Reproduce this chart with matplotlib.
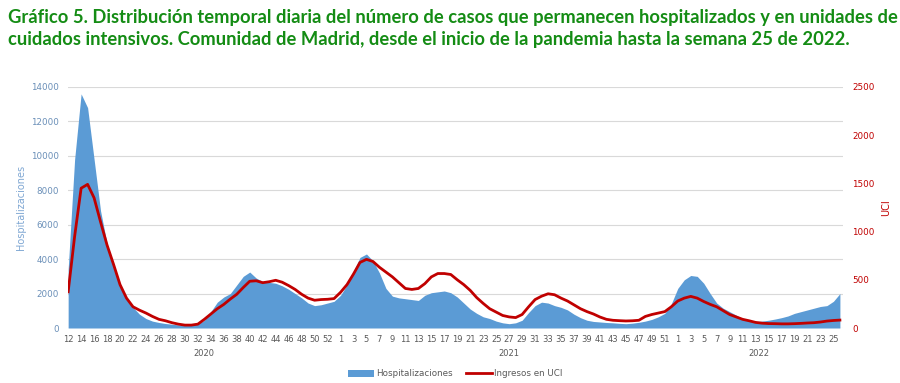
import matplotlib.pyplot as plt
import numpy as np

# Valores semanales (semana 12 de 2020 a semana 25 de 2022)
hospitalizaciones = [
    3400, 9800, 13600, 12800, 9800, 6800, 4900, 3600, 2500, 1700,
    1200, 800, 550, 400, 320, 260, 220, 180, 150, 170,
    230, 450, 950, 1500, 1800, 2000, 2500, 3000, 3250, 2900,
    2700, 2650, 2600, 2450, 2250, 2000, 1750, 1450, 1300, 1350,
    1450, 1550, 1900, 2500, 3300, 4100, 4300, 3900, 3200, 2300,
    1850, 1750, 1700, 1650, 1600, 1900, 2050, 2100, 2150, 2050,
    1800, 1450, 1100, 850, 650, 550, 400, 300, 250, 300,
    450, 900, 1300, 1500, 1450, 1300, 1200, 1050, 800, 600,
    450, 380, 350, 320, 300, 270, 250, 280, 330, 400,
    500, 650, 850, 1400, 2300, 2800, 3050, 3000, 2600, 2000,
    1450, 1150, 950, 750, 550, 450, 380, 400, 450, 520,
    600, 700, 850, 950, 1050, 1150, 1250, 1300, 1550, 2000,
]
uci = [
    375, 950, 1450, 1490, 1350, 1100, 860, 660, 450, 310,
    220, 185, 155, 120, 90, 75, 55, 40, 30, 30,
    40, 90, 145, 200, 245, 300, 350, 420, 485, 490,
    470, 480, 495, 475, 440, 400, 350, 310, 288, 295,
    298, 305, 370, 450, 560, 680, 712, 690, 630, 580,
    530, 470, 410, 400, 410, 460, 530, 565, 565, 555,
    500, 450, 390, 315, 255, 200, 165, 130, 115, 108,
    140, 220, 295, 330, 355, 345, 310, 280, 240, 200,
    170, 145, 114, 90, 80, 76, 73, 75, 80, 120,
    140, 155, 170, 220, 280, 310, 328, 310, 275, 245,
    220, 180, 140, 115, 90, 75, 58, 50, 46, 45,
    43, 43, 45, 48, 52, 55, 62, 72, 78, 82,
]

semanas_2020 = list(range(12, 54))   # 2020 tiene 53 semanas
semanas_2021 = list(range(1, 53))
semanas_2022 = list(range(1, 26))
anios = ['2020', '2021', '2022']

semanas = semanas_2020 + semanas_2021 + semanas_2022
x = np.arange(len(hospitalizaciones))

azul = '#5B9BD5'
rojo = '#C00000'
verde = '#148C14'

fig = plt.figure(figsize=(9, 3.83), dpi=100)
ax = fig.add_axes([67.5 / 900, 55 / 383, 775 / 900, 241 / 383])

ax.fill_between(x, hospitalizaciones, color=azul, linewidth=0, label='Hospitalizaciones')
ax.set_ylim(0, 14000)
ax.set_yticks(np.arange(0, 14001, 2000))
ax.set_xlim(-0.1, 119.4)
ax.grid(axis='y', color='#D9D9D9', linewidth=0.8)
ax.set_axisbelow(True)

ticks = x[:len(semanas):2]
ax.set_xticks(ticks)
ax.set_xticklabels([str(semanas[i]) for i in ticks])
ax.tick_params(axis='x', length=0, labelsize=6, colors='#595959', pad=5)
ax.tick_params(axis='y', length=0, labelsize=6.3, colors='#6A8FB8', pad=6)
ax.set_ylabel('Hospitalizaciones', color='#7FA7D3', fontsize=7, labelpad=4)

ax2 = ax.twinx()
ax2.plot(x, uci, color=rojo, linewidth=2, label='Ingresos en UCI')
ax2.set_ylim(0, 2500)
ax2.set_yticks(np.arange(0, 2501, 500))
ax2.tick_params(axis='y', length=0, labelsize=6.3, colors=rojo, pad=7)
ax2.set_ylabel('UCI', color=rojo, fontsize=7, labelpad=5)

for a in (ax, ax2):
    for s in a.spines.values():
        s.set_visible(False)

# etiquetas de año centradas en su tramo de semanas
inicio = 0
for anio, sem in zip(anios, [semanas_2020, semanas_2021, semanas_2022]):
    centro = inicio + len(sem) / 2
    ax.text(centro, -0.105, anio, transform=ax.get_xaxis_transform(),
            ha='center', va='center', fontsize=6, color='#595959')
    inicio += len(sem)

h1, l1 = ax.get_legend_handles_labels()
h2, l2 = ax2.get_legend_handles_labels()
fig.legend(h1 + h2, l1 + l2, loc='center', bbox_to_anchor=(455 / 900, 1 - 374 / 383),
           ncol=2, frameon=False, fontsize=6.3, labelcolor='#595959',
           handlelength=3, handletextpad=0.2, columnspacing=1.5)

titulo1 = ('Gráfico 5. Distribución temporal diaria del número de casos que permanecen '
           'hospitalizados y en unidades de')
titulo2 = ('cuidados intensivos. Comunidad de Madrid, desde el inicio de la pandemia '
           'hasta la semana 25 de 2022.')
t1 = fig.text(8 / 900, 1 - 17 / 383, titulo1, fontsize=12, fontweight='bold',
              color=verde, family='Lato', va='center')
t2 = fig.text(8 / 900, 1 - 40 / 383, titulo2, fontsize=12, fontweight='bold',
              color=verde, family='Lato', va='center')

# ajustar tamaño para que la primera línea ocupe el ancho como en el original
fig.canvas.draw()
ancho = t1.get_window_extent().width
escala = 882 / ancho
t1.set_fontsize(12 * escala)
t2.set_fontsize(12 * escala)

fig.savefig('out.png', dpi=100)
